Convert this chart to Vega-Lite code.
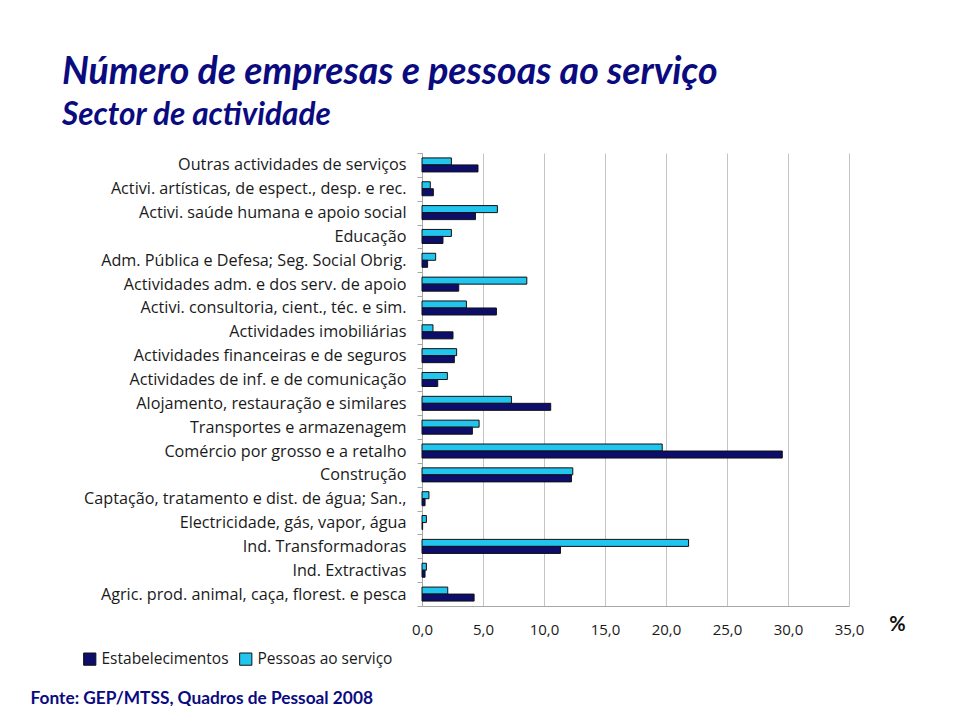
{
  "$schema": "https://vega.github.io/schema/vega-lite/v6.json",
  "width": 427,
  "height": 453,
  "autosize": {"type": "none"},
  "padding": {"left": 422, "top": 153, "right": 111, "bottom": 100},
  "background": "white",
  "title": {
    "text": "Número de empresas e pessoas ao serviço",
    "subtitle": "Sector de actividade",
    "anchor": "start",
    "frame": "group",
    "dx": -360,
    "offset": 14,
    "font": "Lato",
    "fontSize": 37.5,
    "fontStyle": "italic",
    "fontWeight": "bold",
    "color": "#0B0B80",
    "subtitleFont": "Lato",
    "subtitleFontSize": 31.5,
    "subtitleFontStyle": "italic",
    "subtitleFontWeight": "bold",
    "subtitleColor": "#0B0B80",
    "subtitlePadding": 8
  },
  "data": {
    "values": [
      {"cat": "Outras actividades de serviços", "serie": "Pessoas ao serviço", "v": 2.41},
      {"cat": "Outras actividades de serviços", "serie": "Estabelecimentos", "v": 4.59},
      {"cat": "Activi. artísticas, de espect., desp. e rec.", "serie": "Pessoas ao serviço", "v": 0.68},
      {"cat": "Activi. artísticas, de espect., desp. e rec.", "serie": "Estabelecimentos", "v": 0.93},
      {"cat": "Activi. saúde humana e apoio social", "serie": "Pessoas ao serviço", "v": 6.18},
      {"cat": "Activi. saúde humana e apoio social", "serie": "Estabelecimentos", "v": 4.38},
      {"cat": "Educação", "serie": "Pessoas ao serviço", "v": 2.41},
      {"cat": "Educação", "serie": "Estabelecimentos", "v": 1.72},
      {"cat": "Adm. Pública e Defesa; Seg. Social Obrig.", "serie": "Pessoas ao serviço", "v": 1.12},
      {"cat": "Adm. Pública e Defesa; Seg. Social Obrig.", "serie": "Estabelecimentos", "v": 0.46},
      {"cat": "Actividades adm. e dos serv. de apoio", "serie": "Pessoas ao serviço", "v": 8.59},
      {"cat": "Actividades adm. e dos serv. de apoio", "serie": "Estabelecimentos", "v": 3.01},
      {"cat": "Activi. consultoria, cient., téc. e sim.", "serie": "Pessoas ao serviço", "v": 3.64},
      {"cat": "Activi. consultoria, cient., téc. e sim.", "serie": "Estabelecimentos", "v": 6.10},
      {"cat": "Actividades imobiliárias", "serie": "Pessoas ao serviço", "v": 0.90},
      {"cat": "Actividades imobiliárias", "serie": "Estabelecimentos", "v": 2.54},
      {"cat": "Actividades financeiras e de seguros", "serie": "Pessoas ao serviço", "v": 2.84},
      {"cat": "Actividades financeiras e de seguros", "serie": "Estabelecimentos", "v": 2.65},
      {"cat": "Actividades de inf. e de comunicação", "serie": "Pessoas ao serviço", "v": 2.08},
      {"cat": "Actividades de inf. e de comunicação", "serie": "Estabelecimentos", "v": 1.29},
      {"cat": "Alojamento, restauração e similares", "serie": "Pessoas ao serviço", "v": 7.33},
      {"cat": "Alojamento, restauração e similares", "serie": "Estabelecimentos", "v": 10.55},
      {"cat": "Transportes e armazenagem", "serie": "Pessoas ao serviço", "v": 4.68},
      {"cat": "Transportes e armazenagem", "serie": "Estabelecimentos", "v": 4.13},
      {"cat": "Comércio por grosso e a retalho", "serie": "Pessoas ao serviço", "v": 19.69},
      {"cat": "Comércio por grosso e a retalho", "serie": "Estabelecimentos", "v": 29.53},
      {"cat": "Construção", "serie": "Pessoas ao serviço", "v": 12.36},
      {"cat": "Construção", "serie": "Estabelecimentos", "v": 12.25},
      {"cat": "Captação, tratamento e dist. de água; San.,", "serie": "Pessoas ao serviço", "v": 0.57},
      {"cat": "Captação, tratamento e dist. de água; San.,", "serie": "Estabelecimentos", "v": 0.25},
      {"cat": "Electricidade, gás, vapor, água", "serie": "Pessoas ao serviço", "v": 0.36},
      {"cat": "Electricidade, gás, vapor, água", "serie": "Estabelecimentos", "v": 0.05},
      {"cat": "Ind. Transformadoras", "serie": "Pessoas ao serviço", "v": 21.85},
      {"cat": "Ind. Transformadoras", "serie": "Estabelecimentos", "v": 11.35},
      {"cat": "Ind. Extractivas", "serie": "Pessoas ao serviço", "v": 0.36},
      {"cat": "Ind. Extractivas", "serie": "Estabelecimentos", "v": 0.25},
      {"cat": "Agric. prod. animal, caça, florest. e pesca", "serie": "Pessoas ao serviço", "v": 2.11},
      {"cat": "Agric. prod. animal, caça, florest. e pesca", "serie": "Estabelecimentos", "v": 4.27}
    ]
  },
  "mark": {"type": "bar", "stroke": "#111111", "strokeWidth": 1},
  "encoding": {
    "y": {
      "field": "cat",
      "type": "nominal",
      "sort": null,
      "scale": {"paddingInner": 0, "paddingOuter": 0},
      "axis": {
        "domainColor": "#a8a8a8",
        "tickColor": "#a8a8a8",
        "tickSize": 5,
        "tickBand": "extent",
        "labelFont": "Open Sans",
        "labelFontSize": 16.2,
        "labelColor": "#1a1a1a",
        "labelPadding": 11,
        "labelLimit": 400,
        "grid": false,
        "title": "Fonte: GEP/MTSS, Quadros de Pessoal 2008",
        "titleAngle": 0,
        "titleX": -392,
        "titleY": 550,
        "titleAlign": "left",
        "titleBaseline": "alphabetic",
        "titleFont": "Lato",
        "titleFontSize": 17.3,
        "titleFontWeight": "bold",
        "titleColor": "#0B0B80"
      }
    },
    "yOffset": {
      "field": "serie",
      "type": "nominal",
      "sort": ["Pessoas ao serviço", "Estabelecimentos"],
      "scale": {"paddingInner": 0, "paddingOuter": 0.7}
    },
    "x": {
      "field": "v",
      "type": "quantitative",
      "scale": {"domain": [0, 35], "nice": false},
      "axis": {
        "values": [0, 5, 10, 15, 20, 25, 30, 35],
        "format": ".1f",
        "grid": true,
        "gridColor": "#c4c4c4",
        "domainColor": "#a8a8a8",
        "ticks": false,
        "labelFont": "Open Sans",
        "labelFontSize": 15,
        "labelColor": "#1a1a1a",
        "labelPadding": 16,
        "labelFlush": false,
        "title": "%",
        "titleX": 475,
        "titleY": 18,
        "titleAlign": "center",
        "titleBaseline": "middle",
        "titleFont": "Lato",
        "titleFontSize": 20,
        "titleFontWeight": "bold",
        "titleColor": "#111111"
      }
    },
    "color": {
      "field": "serie",
      "type": "nominal",
      "scale": {"domain": ["Estabelecimentos", "Pessoas ao serviço"], "range": ["#0D0D6B", "#22C5EE"]},
      "legend": {
        "title": null,
        "orient": "none",
        "legendX": -340,
        "legendY": 498,
        "direction": "horizontal",
        "symbolType": "square",
        "symbolSize": 150,
        "symbolStrokeColor": "#111111",
        "symbolStrokeWidth": 1,
        "labelFont": "Open Sans",
        "labelFontSize": 15.5,
        "labelColor": "#1a1a1a",
        "columnPadding": 8
      }
    }
  },
  "config": {
    "view": {"stroke": null},
    "locale": {"number": {"decimal": ",", "thousands": ".", "grouping": [3], "currency": ["", " €"]}}
  }
}
